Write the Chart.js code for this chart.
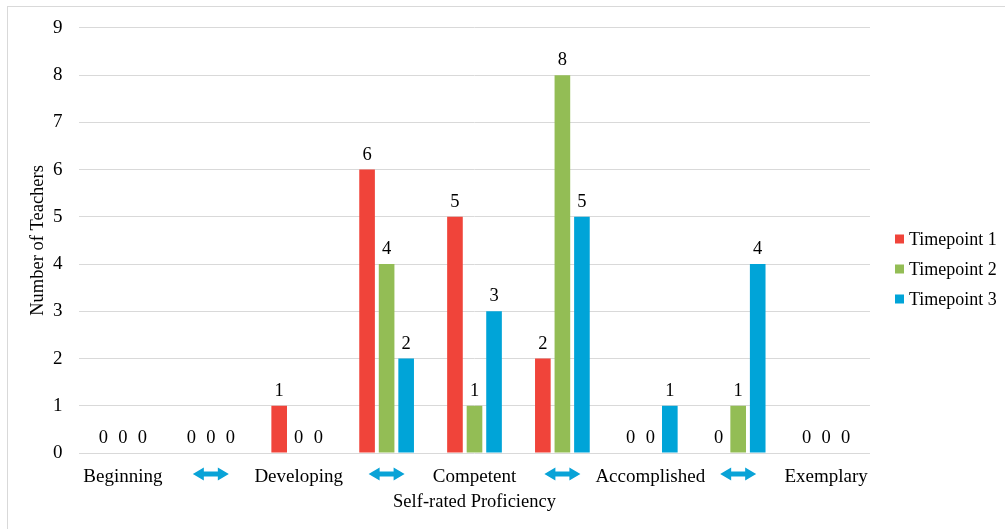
<!DOCTYPE html>
<html>
<head>
<meta charset="utf-8">
<title>Self-rated Proficiency</title>
<script src="https://cdn.jsdelivr.net/npm/chart.js@4.4.1/dist/chart.umd.min.js"></script>
<style>
  html, body { margin: 0; padding: 0; background: #ffffff; }
  #wrap { position: relative; width: 1005px; height: 529px; }
</style>
</head>
<body>
<div id="wrap"><canvas id="chart" width="1005" height="529"></canvas></div>
<script>
// Proficiency levels; the "↔" entries are the in-between steps, drawn as arrows
const categories = ['Beginning', '↔', 'Developing', '↔', 'Competent', '↔', 'Accomplished', '↔', 'Exemplary'];
const seriesNames = ['Timepoint 1', 'Timepoint 2', 'Timepoint 3'];
const timepoint1 = [0, 0, 1, 6, 5, 2, 0, 0, 0];
const timepoint2 = [0, 0, 0, 4, 1, 8, 0, 1, 0];
const timepoint3 = [0, 0, 0, 2, 3, 5, 1, 4, 0];
const yTicks = [0, 1, 2, 3, 4, 5, 6, 7, 8, 9];

const colors = ['#F0443A', '#93BD55', '#00A4D8'];
const arrowColor = '#09A3D7';
const FONT = '"Liberation Serif", "Times New Roman", serif';
const TEXT = '#000000';

// value printed above every bar (zeros sit just above the baseline)
const valueLabels = {
  id: 'valueLabels',
  afterDatasetsDraw(chart) {
    const ctx = chart.ctx;
    ctx.save();
    ctx.font = '18.5px ' + FONT;
    ctx.fillStyle = TEXT;
    ctx.textAlign = 'center';
    ctx.textBaseline = 'alphabetic';
    chart.data.datasets.forEach((ds, di) => {
      const meta = chart.getDatasetMeta(di);
      meta.data.forEach((bar, i) => {
        ctx.fillText(String(ds.data[i]), bar.x, bar.y - 10);
      });
    });
    ctx.restore();
  }
};

// double-headed arrows in place of the in-between category labels
const arrowTicks = {
  id: 'arrowTicks',
  afterDraw(chart) {
    const ctx = chart.ctx;
    const xs = chart.scales.x;
    const cy = 474;
    const w = 18, h = 6.5, L = 11, t = 2.5;
    ctx.save();
    ctx.fillStyle = arrowColor;
    categories.forEach((c, i) => {
      if (c !== '↔') return;
      const cx = xs.getPixelForValue(i);
      ctx.beginPath();
      ctx.moveTo(cx - w, cy);
      ctx.lineTo(cx - w + L, cy - h);
      ctx.lineTo(cx - w + L, cy - t);
      ctx.lineTo(cx + w - L, cy - t);
      ctx.lineTo(cx + w - L, cy - h);
      ctx.lineTo(cx + w, cy);
      ctx.lineTo(cx + w - L, cy + h);
      ctx.lineTo(cx + w - L, cy + t);
      ctx.lineTo(cx - w + L, cy + t);
      ctx.lineTo(cx - w + L, cy + h);
      ctx.closePath();
      ctx.fill();
    });
    ctx.restore();
  }
};

// legend on the right, built from the datasets
const sideLegend = {
  id: 'sideLegend',
  afterDraw(chart) {
    const ctx = chart.ctx;
    ctx.save();
    ctx.font = '18px ' + FONT;
    ctx.textAlign = 'left';
    ctx.textBaseline = 'middle';
    chart.data.datasets.forEach((ds, i) => {
      const y = 239 + i * 30;
      ctx.fillStyle = ds.backgroundColor;
      ctx.fillRect(895, y - 4.5, 9, 9);
      ctx.fillStyle = TEXT;
      ctx.fillText(ds.label, 909, y + 1);
    });
    ctx.restore();
  }
};

// thin outer frame
const frame = {
  id: 'frame',
  beforeDraw(chart) {
    const ctx = chart.ctx;
    ctx.save();
    ctx.strokeStyle = '#d9d9d9';
    ctx.lineWidth = 1;
    ctx.strokeRect(7.5, 6.5, 1200, 700);
    ctx.restore();
  }
};

const seriesValues = [timepoint1, timepoint2, timepoint3];

new Chart(document.getElementById('chart'), {
  type: 'bar',
  data: {
    labels: categories,
    datasets: seriesNames.map((name, i) => ({
      label: name,
      data: seriesValues[i],
      backgroundColor: colors[i],
      borderWidth: 0,
      categoryPercentage: 0.667,
      barPercentage: 0.8
    }))
  },
  options: {
    responsive: false,
    animation: false,
    layout: { padding: { left: 26.9, top: 24.7, right: 135, bottom: 16.2 } },
    plugins: {
      legend: { display: false },
      tooltip: { enabled: false }
    },
    scales: {
      x: {
        grid: { display: false, drawTicks: false },
        border: { display: false },
        ticks: {
          color: TEXT,
          font: { family: FONT, size: 19 },
          padding: 12.3,
          maxRotation: 0,
          autoSkip: false,
          callback: function(value, index) { return categories[index] === '↔' ? '' : categories[index]; }
        },
        title: {
          display: true,
          text: 'Self-rated Proficiency',
          color: TEXT,
          font: { family: FONT, size: 18.5 },
          padding: 0
        },
        afterFit(scale) { scale.height = 59.8; }
      },
      y: {
        min: 0,
        max: 9,
        afterBuildTicks(scale) { scale.ticks = yTicks.map(v => ({ value: v })); },
        grid: { color: '#d9d9d9', drawTicks: false, lineWidth: 1 },
        border: { display: false },
        ticks: {
          color: TEXT,
          font: { family: FONT, size: 19 },
          padding: 16.5
        },
        title: {
          display: true,
          text: 'Number of Teachers',
          color: TEXT,
          font: { family: FONT, size: 18.5 },
          padding: 0
        },
        afterFit(scale) { scale.width = 52.1; }
      }
    }
  },
  plugins: [frame, valueLabels, arrowTicks, sideLegend]
});
</script>
</body>
</html>
